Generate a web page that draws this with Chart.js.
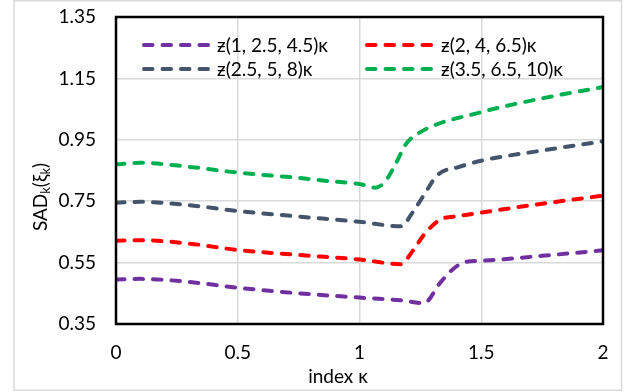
<!DOCTYPE html>
<html>
<head>
<meta charset="utf-8">
<script src="https://cdn.jsdelivr.net/npm/chart.js@4.4.1/dist/chart.umd.min.js"></script>
<style>
    html, body { margin: 0; padding: 0; background: #ffffff; }
    #wrap { width: 625px; height: 392px; position: relative; }
</style>
</head>
<body>
<div id="wrap"><canvas id="sadChart" width="625" height="392"></canvas></div>
<script>
/* ==========================================
   DATA
========================================== */

const X_TICKS = [0, 0.5, 1, 1.5, 2];
const Y_TICKS = [0.35, 0.55, 0.75, 0.95, 1.15, 1.35];

const LABELS = [
    "ƶ(1, 2.5, 4.5)κ",
    "ƶ(2, 4, 6.5)κ",
    "ƶ(2.5, 5, 8)κ",
    "ƶ(3.5, 6.5, 10)κ"
];

const COLORS = ["#7030A0", "#FF0000", "#44546A", "#00B050"];

const purpleK = [0, 0.1, 0.3, 0.5, 0.75, 1.0, 1.17, 1.265, 1.33, 1.38, 1.435, 1.5, 1.75, 2.0];
const purpleV = [0.495, 0.497, 0.487, 0.468, 0.450, 0.436, 0.427, 0.418, 0.483, 0.526, 0.552, 0.556, 0.572, 0.590];

const redK = [0, 0.1, 0.3, 0.5, 0.75, 1.0, 1.17, 1.22, 1.27, 1.33, 1.41, 1.5, 1.75, 2.0];
const redV = [0.621, 0.623, 0.612, 0.591, 0.575, 0.560, 0.545, 0.590, 0.646, 0.689, 0.702, 0.713, 0.742, 0.768];

const slateK = [0, 0.1, 0.3, 0.5, 0.75, 1.0, 1.17, 1.22, 1.27, 1.32, 1.41, 1.5, 1.75, 2.0];
const slateV = [0.745, 0.748, 0.737, 0.718, 0.700, 0.683, 0.668, 0.716, 0.777, 0.835, 0.862, 0.882, 0.915, 0.945];

const greenK = [0, 0.1, 0.3, 0.5, 0.75, 0.88, 1.0, 1.065, 1.105, 1.15, 1.19, 1.25, 1.5, 1.75, 2.0];
const greenV = [0.870, 0.875, 0.862, 0.843, 0.826, 0.815, 0.806, 0.794, 0.814, 0.874, 0.935, 0.975, 1.040, 1.085, 1.122];

const SERIES_K = [purpleK, redK, slateK, greenK];
const SERIES_V = [purpleV, redV, slateV, greenV];


/* ==========================================
   STYLE
========================================== */

const FONT = "Lato, 'Noto Sans', sans-serif";
const FONT_SIZE = 19;
const DASH = [8.5, 10];
const LINE_W = 4;


function toPoints(ks, vs){

    return ks.map((k, i)=>({ x: k, y: vs[i] }));

}


/* ==========================================
   PLUGINS
========================================== */

// light grey frame round the whole chart
const outerFrame = {

    id: "outerFrame",

    beforeDraw(chart){

        const ctx = chart.ctx;

        ctx.save();
        ctx.strokeStyle = "#d9d9d9";
        ctx.lineWidth = 1.5;
        ctx.strokeRect(14, 0.75, 607.5, 389.5);
        ctx.restore();

    }

};

// black box round the plot area
const plotFrame = {

    id: "plotFrame",

    afterDatasetsDraw(chart){

        const a = chart.chartArea;
        const ctx = chart.ctx;

        ctx.save();
        ctx.strokeStyle = "#000000";
        ctx.lineWidth = 2.5;
        ctx.strokeRect(a.left, a.top, a.right - a.left, a.bottom - a.top);
        ctx.restore();

    }

};

// two-column legend inside the plot, plus axis titles
const legendAndTitles = {

    id: "legendAndTitles",

    afterDraw(chart){

        const ctx = chart.ctx;
        const sets = chart.data.datasets;

        const cols = [142, 365];
        const textX = [217, 441];
        const rows = [45, 69];

        ctx.save();
        ctx.font = FONT_SIZE + "px " + FONT;
        ctx.textBaseline = "middle";
        ctx.textAlign = "left";

        sets.forEach((ds, i)=>{

            const c = i % 2;
            const r = Math.floor(i / 2);
            const y = rows[r];

            ctx.strokeStyle = ds.borderColor;
            ctx.lineWidth = LINE_W;
            ctx.lineCap = "round";
            ctx.setLineDash(DASH);
            ctx.beginPath();
            ctx.moveTo(cols[c] + 2, y);
            ctx.lineTo(cols[c] + 66, y);
            ctx.stroke();
            ctx.setLineDash([]);

            ctx.fillStyle = "#000000";
            ctx.fillText(ds.label, textX[c], y + 1);

        });

        // x title
        ctx.textAlign = "center";
        ctx.fillText("index κ", 338, 377);

        // y title with subscripts
        const big = FONT_SIZE + "px " + FONT;
        const small = "13px " + FONT;
        const parts = [
            { t: "SAD", f: big, dy: 0 },
            { t: "k", f: small, dy: 5 },
            { t: "(ξ", f: big, dy: 0 },
            { t: "k", f: small, dy: 5 },
            { t: ")", f: big, dy: 0 }
        ];

        let total = 0;

        parts.forEach(p=>{

            ctx.font = p.f;
            p.w = ctx.measureText(p.t).width;
            total += p.w;

        });

        ctx.translate(41, 197);
        ctx.rotate(-Math.PI / 2);
        ctx.textAlign = "left";

        let x = -total / 2;

        parts.forEach(p=>{

            ctx.font = p.f;
            ctx.fillText(p.t, x, p.dy);
            x += p.w;

        });

        ctx.restore();

    }

};


/* ==========================================
   CHART
========================================== */

const ctx = document.getElementById("sadChart").getContext("2d");

new Chart(ctx, {

    type: "scatter",

    data: {

        datasets: SERIES_K.map((ks, i)=>({

            label: LABELS[i],
            data: toPoints(ks, SERIES_V[i]),
            showLine: true,
            borderColor: COLORS[i],
            backgroundColor: COLORS[i],
            borderWidth: LINE_W,
            borderDash: DASH,
            borderCapStyle: "round",
            cubicInterpolationMode: "monotone",
            pointRadius: 0,
            pointHoverRadius: 0

        }))

    },

    options: {

        responsive: false,
        animation: false,
        devicePixelRatio: 1,

        layout: {
            padding: { top: 17, right: 22, left: 0, bottom: 0 }
        },

        plugins: {
            legend: { display: false },
            tooltip: { enabled: false }
        },

        scales: {

            x: {
                type: "linear",
                min: 0,
                max: 2,
                afterBuildTicks(scale){
                    scale.ticks = X_TICKS.map(v=>({ value: v }));
                },
                afterFit(scale){
                    scale.height = 68;
                    scale.paddingLeft = 0;
                    scale.paddingRight = 0;
                },
                grid: {
                    color: "#d9d9d9",
                    lineWidth: 1.5,
                    drawTicks: false
                },
                border: { display: false },
                ticks: {
                    color: "#000000",
                    padding: 17,
                    maxRotation: 0,
                    font: { family: FONT, size: FONT_SIZE },
                    callback: v=>String(v)
                }
            },

            y: {
                type: "linear",
                min: 0.35,
                max: 1.35,
                afterBuildTicks(scale){
                    scale.ticks = Y_TICKS.map(v=>({ value: v }));
                },
                afterFit(scale){
                    scale.width = 116;
                    scale.paddingTop = 0;
                    scale.paddingBottom = 0;
                },
                grid: {
                    color: "#d9d9d9",
                    lineWidth: 1.5,
                    drawTicks: false
                },
                border: { display: false },
                ticks: {
                    color: "#000000",
                    padding: 20,
                    font: { family: FONT, size: FONT_SIZE },
                    callback: v=>v.toFixed(2)
                }
            }

        }

    },

    plugins: [outerFrame, plotFrame, legendAndTitles]

});
</script>
</body>
</html>
